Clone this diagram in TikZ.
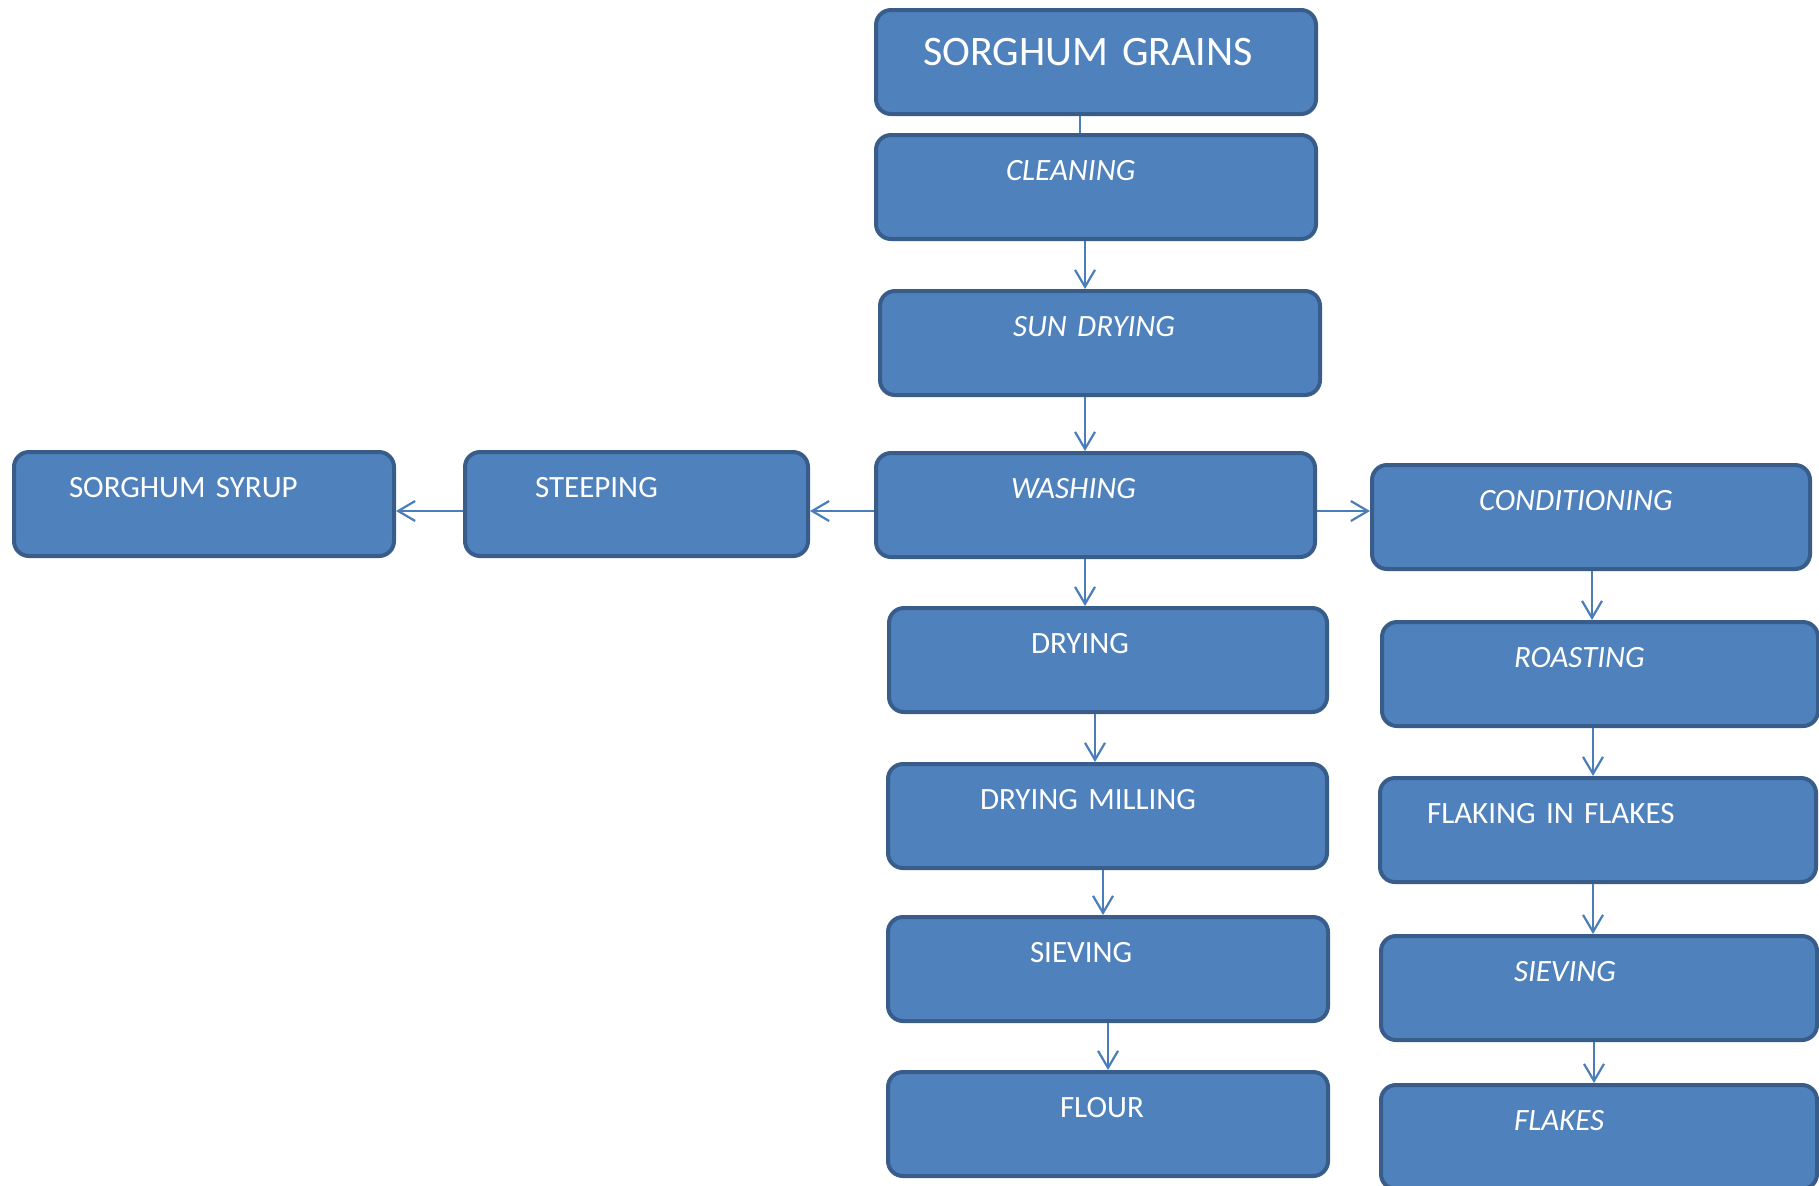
\documentclass[tikz,border=0pt]{standalone}
\usepackage{fontspec}
\setmainfont{Carlito}
\usetikzlibrary{arrows.meta}
\definecolor{boxfill}{HTML}{4F81BD}
\definecolor{boxline}{HTML}{385D8A}
\definecolor{flow}{HTML}{4A7EBB}

\begin{document}
\begin{tikzpicture}[x=0.5pt,y=-0.5pt,->,>={Straight Barb[length=8.5pt,width=10pt]},
		line width=1.1pt]
		\tikzstyle{proc}=[draw=boxline,fill=boxfill,line width=2pt,rounded corners=7.5pt,
			anchor=north west,align=left,text=white,inner ysep=0pt,
			text height=22.5pt,text depth=29.5pt,font=\fontsize{15.5}{18}\selectfont]
		
		\useasboundingbox (0,0) rectangle (1819,1185);
		
		% main column
		\node[proc,inner xsep=23.5pt,text width=173pt,text height=27.5pt,text depth=24.5pt,
			font=\fontsize{21}{24}\selectfont] (grains) at (874,8) {SORGHUM~GRAINS};
		\node[proc,inner xsep=65pt,text width=90pt]     (clean) at (874,133)  {\itshape CLEANING};
		\node[proc,inner xsep=66.5pt,text width=87pt]   (sun)   at (878,289)  {\itshape SUN~DRYING};
		\node[proc,inner xsep=67.5pt,text width=84.5pt] (wash)  at (874,451)  {\itshape WASHING};
		\node[proc,inner xsep=71pt,text width=77pt]     (dry)   at (887,606)  {DRYING};
		\node[proc,inner xsep=46pt,text width=127.5pt]  (mill)  at (886,762)  {DRYING~MILLING};
		\node[proc,inner xsep=71pt,text width=78pt]     (sieve) at (886,915)  {SIEVING};
		\node[proc,inner xsep=86pt,text width=48pt]     (flour) at (886,1070) {FLOUR};
		
		% left branch
		\node[proc,inner xsep=35pt,text width=101.5pt]  (steep) at (463,450)  {STEEPING};
		\node[proc,inner xsep=27.5pt,text width=135pt]  (syrup) at (12,450)   {SORGHUM~SYRUP};
		
		% right branch
		\node[proc,inner xsep=53.5pt,text width=112pt]  (cond)    at (1370,463)  {\itshape CONDITIONING};
		\node[proc,inner xsep=66pt,text width=86pt]     (roast)   at (1380,620)  {\itshape ROASTING};
		\node[proc,inner xsep=23.5pt,text width=171pt]  (flaking) at (1378,776)  {FLAKING~IN~FLAKES};
		\node[proc,inner xsep=66.5pt,text width=85pt]   (sieveb)  at (1379,934)  {\itshape SIEVING};
		\node[proc,inner xsep=66.5pt,text width=85pt]   (flakes)  at (1379,1083) {\itshape FLAKES};
		
		\path[flow] ([xshift=-8pt]grains.south) edge[-] ([xshift=-8pt]clean.north);
		\path[flow] ([xshift=-5.5pt]clean.south) edge ([xshift=-7.5pt]sun.north);
		\path[flow] ([xshift=-7.5pt]sun.south) edge ([xshift=-5.25pt]wash.north);
		\path[flow] ([xshift=-5.25pt]wash.south) edge ([xshift=-11.5pt]dry.north);
		\path[flow] ([xshift=-6.5pt]dry.south) edge ([xshift=-6.25pt]mill.north);
		\path[flow] ([xshift=-2.25pt]mill.south) edge ([xshift=-2.5pt]sieve.north);
		\path[flow] (sieve.south) edge (flour.north);
		
		\path[flow] ([yshift=-3pt]wash.west) edge ([yshift=-3.5pt]steep.east);
		\path[flow] ([yshift=-3.5pt]steep.west) edge ([yshift=-3.5pt]syrup.east);
		\path[flow] ([yshift=-3pt]wash.east) edge ([yshift=3pt]cond.west);
		
		\path[flow] ([xshift=0.5pt]cond.south) edge ([xshift=-4pt]roast.north);
		\path[flow] ([xshift=-3.5pt]roast.south) edge ([xshift=-2.5pt]flaking.north);
		\path[flow] ([xshift=-2.5pt]flaking.south) edge ([xshift=-3pt]sieveb.north);
		\path[flow] ([xshift=-2.5pt]sieveb.south) edge ([xshift=-2.5pt]flakes.north);
		\end{tikzpicture}
\end{document}
